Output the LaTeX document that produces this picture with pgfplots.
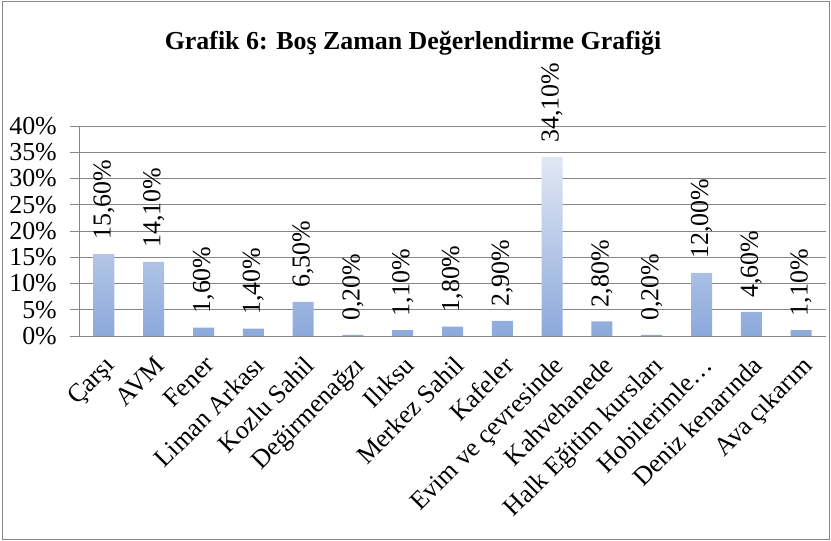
\documentclass[border=0pt]{standalone}
\usepackage{fontspec}
\setmainfont{Liberation Serif}
\usepackage{pgfplots}
\pgfplotsset{compat=1.18}
\usetikzlibrary{shadings}
\definecolor{gridgray}{HTML}{868686}
\definecolor{bartop}{HTML}{E1E7F4}
\definecolor{barbot}{HTML}{8CA9DB}
\begin{document}
\begin{tikzpicture}
\useasboundingbox (0bp,0bp) rectangle (831bp,541bp);
\draw[gridgray, line width=1.2bp] (2.5bp,1.8bp) rectangle (829.5bp,539.5bp);
\node[font=\fontsize{26}{30}\selectfont\bfseries] at (413bp,498bp) {Grafik 6: Boş Zaman Değerlendirme Grafiği};
\begin{axis}[
  at={(79bp,205bp)}, anchor=south west,
  scale only axis, width=747bp, height=210bp,
  xmin=-0.5, xmax=14.5, ymin=0, ymax=40,
  axis lines*=left,
  axis line style={gridgray, line width=0.8bp, -},
  ybar, bar width=21bp,
  ytick={0,5,...,40},
  yticklabels={0\%,5\%,10\%,15\%,20\%,25\%,30\%,35\%,40\%},
  ymajorgrids, grid style={gridgray, line width=0.8bp},
  tick align=outside, major tick length=9bp, minor tick length=9bp,
  ytick style={gridgray, line width=0.8bp},
  xtick={0,...,14},
  xtick style={draw=none},
  minor xtick={-0.5,0.5,...,14.5},
  minor x tick style={gridgray, line width=0.8bp},
  xticklabels={Çarşı, AVM, Fener, Liman Arkası, Kozlu Sahil, Değirmenağzı, Ilıksu, Merkez Sahil, Kafeler, Evim ve çevresinde, Kahvehanede, Halk Eğitim kursları, Hobilerimle…, Deniz kenarında, Ava çıkarım},
  xticklabel shift=8bp,
  yticklabel shift=12bp,
  x tick label style={rotate=45, anchor=north east, font=\fontsize{26}{30}\selectfont, inner sep=1bp},
  y tick label style={font=\fontsize{26}{30}\selectfont, inner sep=1bp},
  /pgf/number format/assume math mode=true,
  point meta=y,
  nodes near coords={\pgfmathprintnumber[fixed,fixed zerofill,precision=2,use comma]{\pgfplotspointmeta}\%},
  every node near coord/.append style={rotate=90, anchor=west, font=\fontsize{26}{30}\selectfont, inner xsep=14bp, text=black},
  clip=false,
]
\addplot[draw=none, top color=bartop, bottom color=barbot] coordinates {
(0,15.6) (1,14.1) (2,1.6) (3,1.4) (4,6.5) (5,0.2) (6,1.1) (7,1.8) (8,2.9) (9,34.1) (10,2.8) (11,0.2) (12,12.0) (13,4.6) (14,1.1)
};
\end{axis}
\end{tikzpicture}
\end{document}
